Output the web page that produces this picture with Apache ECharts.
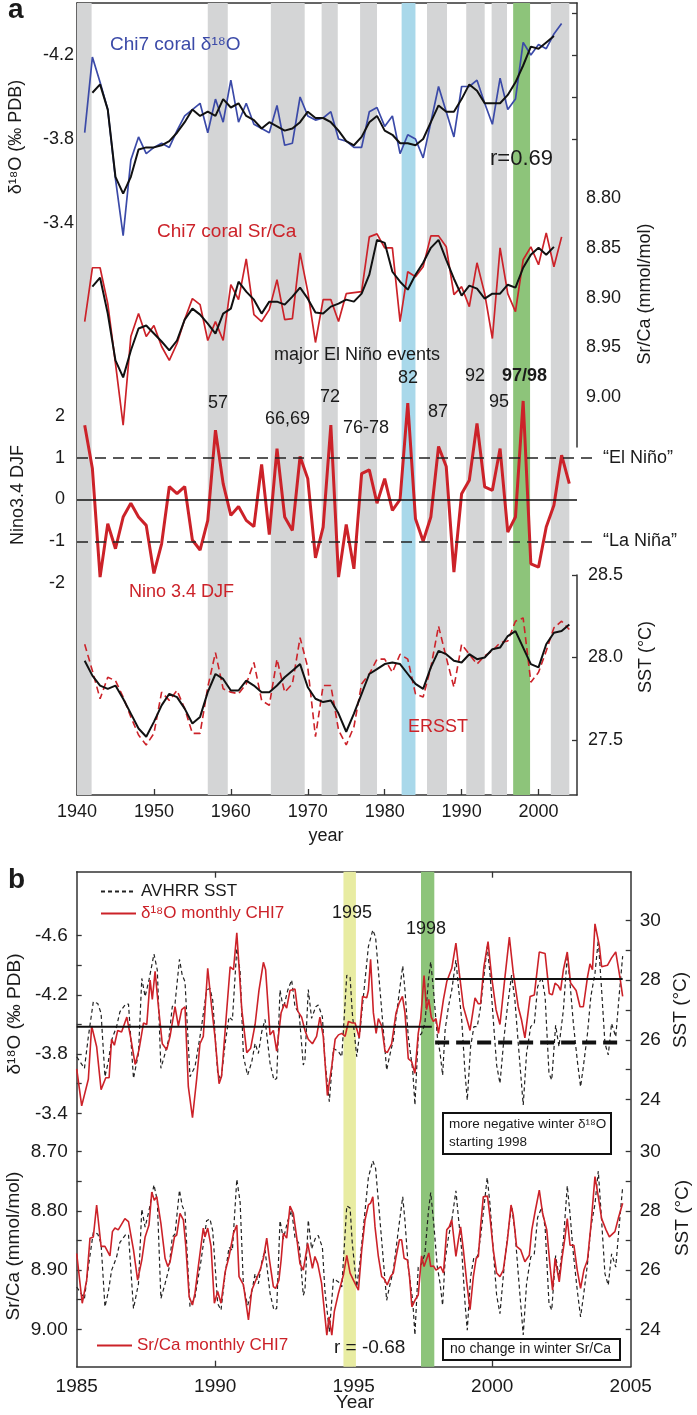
<!DOCTYPE html>
<html>
<head>
<meta charset="utf-8">
<script src="https://cdn.jsdelivr.net/npm/echarts@6.0.0/dist/echarts.min.js"></script>
<style>
  html, body { margin: 0; padding: 0; background: #fff; }
  #main { width: 697px; height: 1415px; }
</style>
</head>
<body>
<div id="main"></div>
<script>
// ---- panel a: annual series (first year given, one value per year) ----
const d18oStart = 1941
const d18oAnnual = [-3.83, -4.19, -4.07, -3.94, -3.61, -3.34, -3.70, -3.81, -3.73, -3.76, -3.78, -3.76, -3.84, -3.91, -3.94, -3.97, -3.83, -3.99, -3.88, -4.08, -3.88, -3.97, -3.87, -3.85, -3.83, -3.96, -3.77, -3.78, -4.00, -3.91, -3.89, -3.90, -3.93, -3.80, -3.79,
  -3.76, -3.76, -3.93, -3.95, -3.86, -3.91, -3.73, -3.82, -3.80, -3.71, -3.88, -4.05, -3.93, -3.81, -4.05, -4.05, -4.08, -3.97, -3.87, -4.09, -3.94, -3.99, -4.26, -4.20, -4.25, -4.23, -4.30, -4.35]
const smoothStart = 1942
const d18oSmooth = [-4.02, -4.06, -3.94, -3.62, -3.54, -3.62, -3.75, -3.76, -3.76, -3.77, -3.79, -3.83, -3.88, -3.94, -3.91, -3.93, -3.91, -3.99, -3.95, -3.97, -3.91, -3.89, -3.85, -3.88, -3.86, -3.84, -3.85, -3.88, -3.93, -3.90, -3.90, -3.88, -3.84, -3.79,
  -3.77, -3.81, -3.88, -3.91, -3.84, -3.82, -3.78, -3.78, -3.77, -3.80, -3.88, -3.96, -3.93, -3.93, -3.99, -4.06, -4.03, -3.97, -3.97, -3.97, -4.01, -4.07, -4.15, -4.24, -4.23, -4.26, -4.29]
const srcaAnnual = [8.924, 8.870, 8.870, 8.906, 8.966, 9.028, 8.939, 8.916, 8.939, 8.928, 8.949, 8.963, 8.946, 8.922, 8.901, 8.907, 8.943, 8.924, 8.943, 8.887, 8.902, 8.861, 8.917, 8.924, 8.912, 8.882, 8.922, 8.921, 8.855, 8.894, 8.945, 8.902, 8.902, 8.924, 8.896,
  8.895, 8.894, 8.839, 8.836, 8.850, 8.850, 8.924, 8.874, 8.879, 8.869, 8.838, 8.838, 8.849, 8.897, 8.889, 8.909, 8.865, 8.896, 8.941, 8.850, 8.896, 8.914, 8.862, 8.849, 8.867, 8.835, 8.869, 8.839]
const srcaSmooth = [8.889, 8.880, 8.916, 8.963, 8.980, 8.953, 8.931, 8.928, 8.936, 8.944, 8.953, 8.943, 8.922, 8.911, 8.917, 8.926, 8.936, 8.916, 8.911, 8.884, 8.894, 8.902, 8.916, 8.904, 8.904, 8.907, 8.899, 8.890, 8.901, 8.915, 8.916, 8.909, 8.906, 8.902,
  8.904, 8.896, 8.877, 8.842, 8.845, 8.874, 8.884, 8.892, 8.877, 8.865, 8.850, 8.842, 8.862, 8.881, 8.898, 8.888, 8.891, 8.901, 8.896, 8.896, 8.887, 8.890, 8.870, 8.857, 8.850, 8.857, 8.849]
const ninoStart = 1941
const nino34 = [1.78, 0.74, -1.86, -0.58, -1.18, -0.42, -0.09, -0.42, -0.62, -1.77, -1.06, 0.31, 0.14, 0.31, -0.97, -1.21, -0.50, 1.66, 0.38, -0.38, -0.17, -0.50, -0.65, 0.84, -0.84, 1.22, -0.42, -0.74, 1.03, 0.50, -1.40, -0.66, 1.78, -1.86, -0.60,
  -1.66, 0.62, 0.71, -0.09, 0.50, -0.26, 0.00, 2.31, -0.46, -1.00, -0.42, 1.27, 0.79, -1.74, 0.14, 0.46, 1.82, 0.30, 0.22, 1.22, -0.78, -0.42, 2.36, -1.54, -1.62, -0.66, -0.14, 1.06, 0.38]
const ersst = [28.08, 27.92, 27.75, 27.88, 27.86, 27.76, 27.64, 27.53, 27.47, 27.54, 27.79, 27.74, 27.80, 27.69, 27.54, 27.54, 27.82, 28.03, 27.81, 27.79, 27.78, 27.84, 27.97, 27.74, 27.71, 27.99, 27.79, 27.84, 28.12, 27.94, 27.52, 27.83, 27.83, 27.56, 27.47,
  27.58, 27.84, 27.90, 27.99, 27.99, 27.91, 28.02, 27.99, 27.78, 27.76, 27.94, 28.19, 28.00, 27.82, 28.08, 28.02, 27.96, 28.01, 28.04, 28.09, 28.10, 28.22, 28.24, 27.85, 27.91, 28.04, 28.18, 28.22, 28.17]
const ersstSmooth = [27.98, 27.89, 27.83, 27.81, 27.83, 27.75, 27.66, 27.57, 27.52, 27.61, 27.71, 27.78, 27.76, 27.69, 27.60, 27.64, 27.79, 27.90, 27.87, 27.80, 27.80, 27.86, 27.83, 27.79, 27.79, 27.83, 27.88, 27.92, 27.96, 27.82, 27.75, 27.73, 27.74, 27.66, 27.55,
  27.66, 27.78, 27.90, 27.93, 27.96, 27.97, 27.96, 27.90, 27.84, 27.81, 27.94, 28.04, 28.02, 27.98, 27.97, 28.02, 27.99, 28.00, 28.05, 28.06, 28.13, 28.16, 28.06, 27.96, 27.94, 28.08, 28.15, 28.16, 28.20]
const ninoThresholds = [1, -1]
const ninoThresholdNames = ['\u201cEl Ni\u00f1o\u201d', '\u201cLa Ni\u00f1a\u201d']

// shaded El Nino years in panel a
const grayStartA = [1940, 1957.0, 1965.2, 1971.8, 1976.8, 1985.5, 1990.6, 1993.9, 2001.6]
const grayEndA = [1941.9, 1959.6, 1969.6, 1973.9, 1979.0, 1988.1, 1993.0, 1995.9, 2004.0]
const blueBandA = [1982.2, 1984.0]
const greenBandA = [1996.7, 1998.9]

// ---- panel b: monthly series as [year, value] ----
const avhrrSst = [[1985.00,25.43],[1985.28,25.04],[1985.42,26.10],[1985.60,27.28],[1985.76,27.22],[1985.88,26.89],[1986.02,24.76],[1986.14,25.26],[1986.26,25.99],[1986.44,26.44],[1986.56,26.94],[1986.77,27.20],[1986.87,27.20],[1987.05,24.70],[1987.23,25.54],[1987.35,28.06],[1987.47,27.45],[1987.61,28.01],[1987.79,28.88],[1987.91,28.34],[1988.04,25.04],[1988.19,25.54],[1988.33,26.05],[1988.45,27.11],[1988.55,27.22],[1988.71,28.70],[1988.81,28.17],[1988.91,27.95],[1989.09,24.76],[1989.27,25.09],[1989.49,26.33],[1989.69,27.67],[1989.81,27.73],[1989.91,27.33],[1990.09,24.87],[1990.21,24.65],[1990.36,25.88],[1990.50,26.77],[1990.62,26.66],[1990.78,29.07],[1990.90,28.29],[1991.02,25.43],[1991.17,24.81],[1991.32,25.26],[1991.44,25.88],[1991.56,25.54],[1991.68,26.27],[1991.80,26.68],[1991.98,25.21],[1992.12,24.65],[1992.22,24.70],[1992.34,27.67],[1992.46,27.05],[1992.62,27.67],[1992.76,28.01],[1992.88,27.11],[1993.03,26.89],[1993.18,25.15],[1993.24,25.32],[1993.36,27.69],[1993.48,26.72],[1993.63,27.11],[1993.72,27.17],[1993.87,26.77],[1993.96,25.32],[1994.12,23.92],[1994.27,25.71],[1994.45,25.60],[1994.57,25.43],[1994.75,28.17],[1994.87,28.10],[1994.95,26.89],[1995.11,25.43],[1995.23,26.33],[1995.41,28.01],[1995.53,29.13],[1995.69,29.69],[1995.79,29.44],[1995.95,27.67],[1996.07,26.33],[1996.19,24.98],[1996.29,25.43],[1996.43,25.99],[1996.61,27.33],[1996.77,28.48],[1996.85,27.67],[1996.97,26.10],[1997.13,24.98],[1997.21,23.81],[1997.33,26.10],[1997.45,26.21],[1997.57,26.55],[1997.70,28.01],[1997.78,28.62],[1997.88,27.67],[1998.02,26.10],[1998.12,25.54],[1998.21,24.81],[1998.30,26.33],[1998.42,27.11],[1998.54,27.67],[1998.69,28.68],[1998.78,27.78],[1998.90,26.66],[1999.02,24.87],[1999.10,23.97],[1999.22,25.77],[1999.34,26.44],[1999.46,26.44],[1999.58,27.11],[1999.74,28.45],[1999.82,29.13],[1999.92,28.23],[2000.04,26.66],[2000.16,25.15],[2000.28,24.53],[2000.43,26.10],[2000.55,27.11],[2000.70,28.17],[2000.82,27.33],[2000.94,25.88],[2001.12,23.81],[2001.24,25.54],[2001.39,26.44],[2001.52,26.55],[2001.64,27.78],[2001.79,28.12],[2001.91,27.45],[2002.05,24.87],[2002.15,24.65],[2002.29,26.49],[2002.41,25.77],[2002.57,27.00],[2002.71,28.85],[2002.81,27.89],[2002.93,26.55],[2003.07,25.32],[2003.19,24.42],[2003.29,25.09],[2003.44,26.21],[2003.56,27.45],[2003.71,28.23],[2003.83,29.35],[2003.95,27.67],[2004.07,25.88],[2004.19,25.49],[2004.31,26.55],[2004.46,26.10],[2004.59,27.56],[2004.71,28.81]]
const d18oMonthly = [[1985.00,-3.70],[1985.18,-3.45],[1985.42,-3.63],[1985.54,-3.99],[1985.72,-3.85],[1985.88,-3.56],[1986.05,-3.64],[1986.17,-3.64],[1986.26,-3.90],[1986.36,-3.86],[1986.48,-3.96],[1986.62,-3.95],[1986.81,-4.05],[1986.96,-3.90],[1987.11,-3.73],[1987.25,-3.83],[1987.41,-4.01],[1987.53,-4.00],[1987.65,-4.30],[1987.73,-4.17],[1987.83,-4.36],[1987.95,-4.12],[1988.09,-3.87],[1988.25,-3.83],[1988.37,-3.92],[1988.45,-4.01],[1988.55,-4.12],[1988.67,-3.99],[1988.79,-4.10],[1988.91,-4.12],[1989.03,-3.58],[1989.18,-3.37],[1989.33,-3.63],[1989.45,-3.87],[1989.57,-3.92],[1989.73,-4.38],[1989.87,-4.12],[1989.99,-3.92],[1990.14,-3.60],[1990.23,-3.65],[1990.38,-4.01],[1990.54,-4.39],[1990.66,-4.37],[1990.78,-4.62],[1990.86,-4.39],[1990.96,-4.10],[1991.14,-3.81],[1991.28,-3.84],[1991.44,-4.00],[1991.58,-4.23],[1991.74,-4.42],[1991.82,-4.37],[1991.98,-3.93],[1992.10,-3.96],[1992.22,-3.82],[1992.38,-4.08],[1992.50,-4.14],[1992.58,-4.11],[1992.70,-4.23],[1992.88,-4.24],[1992.98,-4.09],[1993.12,-4.05],[1993.24,-3.96],[1993.36,-3.90],[1993.51,-3.87],[1993.66,-3.92],[1993.78,-4.05],[1993.90,-3.92],[1994.05,-3.52],[1994.21,-3.72],[1994.33,-3.90],[1994.45,-3.93],[1994.57,-3.94],[1994.69,-3.92],[1994.81,-4.02],[1994.95,-4.01],[1995.05,-4.01],[1995.20,-3.91],[1995.32,-4.19],[1995.47,-4.18],[1995.53,-4.23],[1995.61,-4.44],[1995.71,-4.08],[1995.81,-3.94],[1995.89,-4.04],[1996.01,-3.99],[1996.13,-3.82],[1996.21,-3.81],[1996.37,-3.87],[1996.53,-4.08],[1996.65,-4.15],[1996.76,-4.19],[1996.85,-4.08],[1996.97,-3.77],[1997.09,-3.75],[1997.21,-3.67],[1997.33,-3.94],[1997.42,-4.04],[1997.54,-4.33],[1997.63,-4.10],[1997.71,-4.17],[1997.80,-4.05],[1997.88,-4.02],[1997.97,-4.04],[1998.06,-3.94],[1998.24,-4.17],[1998.36,-4.29],[1998.54,-4.38],[1998.69,-4.55],[1998.81,-4.35],[1998.96,-4.12],[1999.20,-3.96],[1999.38,-4.18],[1999.50,-4.14],[1999.58,-4.14],[1999.70,-4.39],[1999.85,-4.56],[1999.98,-4.32],[2000.14,-4.10],[2000.28,-4.00],[2000.46,-4.32],[2000.62,-4.59],[2000.76,-4.35],[2000.94,-4.12],[2001.06,-4.03],[2001.18,-3.91],[2001.37,-4.19],[2001.52,-4.20],[2001.70,-4.49],[2001.91,-4.48],[2002.06,-4.21],[2002.17,-4.20],[2002.27,-4.28],[2002.39,-4.26],[2002.47,-4.23],[2002.57,-4.37],[2002.71,-4.49],[2002.83,-4.28],[2003.03,-4.23],[2003.17,-4.12],[2003.29,-4.12],[2003.44,-4.32],[2003.53,-4.41],[2003.62,-4.37],[2003.71,-4.68],[2003.87,-4.53],[2003.95,-4.39],[2004.16,-4.40],[2004.31,-4.45],[2004.46,-4.49],[2004.61,-4.32],[2004.71,-4.19]]
const srcaMonthly = [[1985.00,8.872],[1985.20,8.956],[1985.36,8.917],[1985.48,8.846],[1985.60,8.844],[1985.72,8.790],[1985.88,8.860],[1986.02,8.860],[1986.20,8.876],[1986.29,8.835],[1986.38,8.829],[1986.50,8.832],[1986.74,8.813],[1986.87,8.818],[1987.05,8.866],[1987.20,8.917],[1987.35,8.883],[1987.47,8.844],[1987.61,8.824],[1987.71,8.768],[1987.80,8.782],[1987.89,8.776],[1988.04,8.821],[1988.19,8.880],[1988.29,8.894],[1988.37,8.886],[1988.53,8.844],[1988.61,8.841],[1988.73,8.804],[1988.85,8.815],[1988.94,8.860],[1989.06,8.945],[1989.18,8.959],[1989.27,8.939],[1989.39,8.894],[1989.57,8.829],[1989.63,8.844],[1989.73,8.829],[1989.85,8.860],[1989.97,8.956],[1990.09,8.936],[1990.21,8.956],[1990.36,8.903],[1990.50,8.877],[1990.66,8.838],[1990.78,8.824],[1990.86,8.911],[1991.02,8.925],[1991.20,8.984],[1991.32,8.934],[1991.44,8.920],[1991.62,8.900],[1991.74,8.880],[1991.86,8.846],[1991.96,8.883],[1992.10,8.928],[1992.18,8.931],[1992.30,8.917],[1992.38,8.883],[1992.46,8.838],[1992.58,8.846],[1992.70,8.792],[1992.82,8.804],[1992.94,8.844],[1993.06,8.889],[1993.18,8.900],[1993.34,8.855],[1993.51,8.897],[1993.60,8.877],[1993.70,8.889],[1993.84,8.922],[1994.03,9.010],[1994.11,8.979],[1994.21,9.010],[1994.30,8.970],[1994.45,8.939],[1994.63,8.908],[1994.75,8.875],[1994.87,8.905],[1994.99,8.917],[1995.17,8.934],[1995.29,8.866],[1995.41,8.815],[1995.53,8.790],[1995.61,8.787],[1995.69,8.776],[1995.77,8.827],[1995.89,8.877],[1996.01,8.911],[1996.09,8.914],[1996.21,8.925],[1996.33,8.911],[1996.43,8.905],[1996.53,8.877],[1996.65,8.849],[1996.73,8.849],[1996.82,8.880],[1996.94,8.883],[1997.01,8.908],[1997.10,8.962],[1997.21,8.951],[1997.33,8.942],[1997.45,8.876],[1997.54,8.894],[1997.61,8.897],[1997.71,8.871],[1997.78,8.894],[1997.88,8.893],[1997.97,8.900],[1998.06,8.897],[1998.14,8.894],[1998.24,8.905],[1998.36,8.832],[1998.45,8.827],[1998.54,8.815],[1998.69,8.877],[1998.78,8.849],[1998.86,8.827],[1998.96,8.866],[1999.08,8.920],[1999.20,8.967],[1999.32,8.911],[1999.42,8.880],[1999.50,8.877],[1999.58,8.827],[1999.68,8.776],[1999.83,8.775],[1999.92,8.810],[2000.04,8.866],[2000.16,8.905],[2000.28,8.911],[2000.40,8.900],[2000.55,8.849],[2000.68,8.790],[2000.76,8.807],[2000.88,8.860],[2001.03,8.866],[2001.18,8.886],[2001.34,8.875],[2001.43,8.832],[2001.55,8.801],[2001.70,8.765],[2001.82,8.804],[2001.97,8.832],[2002.09,8.894],[2002.18,8.934],[2002.27,8.880],[2002.33,8.880],[2002.42,8.920],[2002.51,8.883],[2002.63,8.844],[2002.71,8.813],[2002.81,8.858],[2002.95,8.858],[2003.07,8.900],[2003.19,8.931],[2003.31,8.900],[2003.44,8.883],[2003.56,8.827],[2003.71,8.742],[2003.83,8.776],[2003.95,8.813],[2004.11,8.832],[2004.23,8.844],[2004.43,8.835],[2004.55,8.813],[2004.71,8.787]]

// winter mean lines on the d18O axis of panel b
const winterLineStart = [1985.0, 1997.94, 1997.94]
const winterLineEnd = [1997.82, 2004.71, 2004.71]
const winterLineValue = [-3.985, -4.307, -3.879]
const winterLineDashed = [false, false, true]
const yellowBandB = [1994.63, 1995.08]
const greenBandB = [1997.43, 1997.91]

const FONT = '"Liberation Sans", Arial, Helvetica, sans-serif'
const AXC = '#333'
const TXT = '#1a1a1a'
const RED = '#cc2229'
const BLUE = '#3b4aa8'
const BLACK = '#111'
const GRAY = '#d4d5d6'

const pairs = (start, vals) => vals.map((v, i) => [start + i, v])

function box(left, top, width, height) {
  return { left, top, width, height, containLabel: false, outerBoundsMode: 'none' }
}
function xHidden(gridIndex, min, max) {
  return { type: 'value', gridIndex, min, max, show: false, splitLine: { show: false } }
}
function yLine(gridIndex, position) {
  return {
    type: 'value', gridIndex, position, min: 0, max: 1,
    axisLine: { show: true, onZero: false, lineStyle: { color: AXC, width: 1.5 } },
    axisTick: { show: false }, axisLabel: { show: false }, splitLine: { show: false }
  }
}
function yScale(gridIndex, position, o) {
  return {
    type: 'value', gridIndex, position, min: o.min, max: o.max, interval: o.interval, inverse: !!o.inverse,
    axisLine: { show: false, onZero: false },
    axisTick: { show: o.ticks !== false, inside: true, length: 5, lineStyle: { color: AXC, width: 1.3 }, customValues: o.tickValues },
    axisLabel: {
      show: !!o.labels, customValues: o.labels, margin: o.margin || 8,
      formatter: v => Number(v).toFixed(o.dec), fontSize: o.fs || 18, color: TXT, fontFamily: FONT
    },
    splitLine: { show: false }
  }
}
function xFrame(gridIndex, position, o) {
  return {
    type: 'value', gridIndex, position, min: o.min, max: o.max,
    axisLine: { show: true, onZero: false, lineStyle: { color: AXC, width: 1.5 } },
    axisTick: { show: !!o.ticks, inside: true, length: 6, lineStyle: { color: AXC, width: 1.3 }, customValues: o.ticks },
    axisLabel: { show: !!o.labels, customValues: o.labels, margin: o.margin || 8, fontSize: o.fs || 18, color: TXT, fontFamily: FONT, formatter: v => String(v) },
    splitLine: { show: false }
  }
}
function band(s, e, color) {
  return [{ xAxis: s, itemStyle: { color } }, { xAxis: e }]
}
function txt(x, y, text, o = {}) {
  return {
    type: 'text', x, y, z: 100, rotation: o.rot || 0,
    style: {
      text, fill: o.color || TXT, fontSize: o.fs || 18, fontFamily: FONT, fontWeight: o.bold ? 'bold' : 'normal',
      textAlign: o.align || 'left', align: o.align || 'left', textVerticalAlign: 'middle', verticalAlign: 'middle'
    }
  }
}
function line(name, xi, yi, data, color, width, dash, z) {
  return {
    type: 'line', name, xAxisIndex: xi, yAxisIndex: yi, data, symbol: 'none', clip: false, silent: true,
    itemStyle: { color }, lineStyle: { color, width, type: dash || 'solid' }, z: z || 3
  }
}

const bandsA = grayStartA.map((s, i) => band(s, grayEndA[i], GRAY))
  .concat([band(blueBandA[0], blueBandA[1], '#a9d8ea'), band(greenBandA[0], greenBandA[1], '#8dc47a')])
const bandsB = [band(yellowBandB[0], yellowBandB[1], '#e8eca2'), band(greenBandB[0], greenBandB[1], '#8dc47a')]

const winterSeries = winterLineValue.map((v, i) => line('winter' + i, 9, 12,
  [[winterLineStart[i], v], [winterLineEnd[i], v]], BLACK, winterLineDashed[i] ? 4 : 2, winterLineDashed[i] ? [14, 7] : 'solid', 4))

const A_MIN = 1940, A_MAX = 2005
const option = {
  animation: false,
  backgroundColor: '#fff',
  textStyle: { fontFamily: FONT },
  grid: [
    box(77, 3, 500, 792),       // 0 frame a
    box(77, 13, 500, 210),      // 1 d18O
    box(77, 198, 500, 199.3),   // 2 Sr/Ca
    box(77, 416, 500, 167),     // 3 Nino
    box(77, 416, 520, 167),     // 4 Nino thresholds (run past the axis)
    box(77, 575, 500, 165),     // 5 SST
    box(77, 3, 500, 444),       // 6 right axis, upper part
    box(77, 575, 500, 220),     // 7 right axis, lower part
    box(76.7, 871.7, 554, 495), // 8 frame b
    box(76.7, 935.7, 554, 177.6), // 9 d18O monthly
    box(76.7, 920.7, 554, 178.6), // 10 SST top
    box(76.7, 1151.7, 554, 177.6),// 11 Sr/Ca monthly
    box(76.7, 1151.7, 554, 177.6) // 12 SST bottom
  ],
  xAxis: [
    xFrame(0, 'bottom', { min: A_MIN, max: A_MAX, ticks: [1950, 1960, 1970, 1980, 1990, 2000], labels: [1940, 1950, 1960, 1970, 1980, 1990, 2000], margin: 8 }),
    xHidden(1, A_MIN, A_MAX), xHidden(2, A_MIN, A_MAX), xHidden(3, A_MIN, A_MAX),
    xHidden(4, A_MIN, A_MIN + 65 * 520 / 500), xHidden(5, A_MIN, A_MAX), xHidden(6, A_MIN, A_MAX), xHidden(7, A_MIN, A_MAX),
    xFrame(8, 'bottom', { min: 1985, max: 2005, ticks: [1990, 1995, 2000], labels: [1985, 1990, 1995, 2000, 2005], margin: 11, fs: 19 }),
    xHidden(9, 1985, 2005), xHidden(10, 1985, 2005), xHidden(11, 1985, 2005), xHidden(12, 1985, 2005),
    xFrame(0, 'top', { min: A_MIN, max: A_MAX }),
    xFrame(8, 'top', { min: 1985, max: 2005, ticks: [1990, 1995, 2000] })
  ],
  yAxis: [
    yLine(0, 'left'),
    yScale(1, 'left', { min: -4.4, max: -3.4, interval: 0.2, inverse: true, labels: [-4.2, -3.8, -3.4], dec: 1, margin: 3 }),
    yScale(1, 'right', { min: -4.4, max: -3.4, interval: 0.2, inverse: true, tickValues: [-4.4, -4.2, -4.0, -3.8] }),
    yScale(2, 'right', { min: 8.8, max: 9.0, interval: 0.05, inverse: true, labels: [8.8, 8.85, 8.9, 8.95, 9.0], dec: 2, margin: 9, ticks: false }),
    yScale(3, 'left', { min: -2, max: 2, interval: 1, labels: [-2, -1, 0, 1, 2], dec: 0, margin: 12 }),
    { type: 'value', gridIndex: 4, min: -2, max: 2, show: false, splitLine: { show: false } },
    yScale(5, 'right', { min: 27.5, max: 28.5, interval: 0.5, labels: [27.5, 28.0, 28.5], dec: 1, margin: 11 }),
    yScale(5, 'left', { min: 27.5, max: 28.5, interval: 0.5, tickValues: [27.5, 28.0] }),
    yLine(6, 'right'),
    yLine(7, 'right'),
    yLine(8, 'left'),
    yLine(8, 'right'),
    yScale(9, 'left', { min: -4.6, max: -3.4, interval: 0.2, inverse: true, labels: [-4.6, -4.2, -3.8, -3.4], dec: 1, margin: 9, fs: 19 }),
    yScale(10, 'right', { min: 24, max: 30, interval: 1, labels: [24, 26, 28, 30], dec: 0, margin: 9, fs: 19 }),
    yScale(11, 'left', { min: 8.7, max: 9.0, interval: 0.05, inverse: true, labels: [8.7, 8.8, 8.9, 9.0], dec: 2, margin: 9, fs: 19 }),
    yScale(12, 'right', { min: 24, max: 30, interval: 1, labels: [24, 26, 28, 30], dec: 0, margin: 9, fs: 19 })
  ],
  legend: [
    {
      orient: 'vertical', left: 100, top: 883, itemWidth: 35, itemHeight: 12, itemGap: 5, padding: 0,
      itemStyle: { opacity: 0 },
      textStyle: { fontSize: 17, fontFamily: FONT, color: TXT },
      data: [{ name: 'AVHRR SST', textStyle: { color: TXT } }, { name: 'δ¹⁸O monthly CHI7', textStyle: { color: RED } }],
      selectedMode: false
    },
    {
      orient: 'vertical', left: 96, top: 1337, itemWidth: 35, itemHeight: 12, padding: 0,
      itemStyle: { opacity: 0 },
      textStyle: { fontSize: 17, fontFamily: FONT, color: RED },
      data: [{ name: 'Sr/Ca monthly CHI7', textStyle: { color: RED } }],
      selectedMode: false
    }
  ],
  series: [
    { type: 'line', name: 'bandsA', xAxisIndex: 0, yAxisIndex: 0, data: [], silent: true, z: 1, markArea: { silent: true, data: bandsA } },
    line('Chi7 coral δ18O', 1, 1, pairs(d18oStart, d18oAnnual), BLUE, 1.7),
    line('δ18O smooth', 1, 1, pairs(smoothStart, d18oSmooth), BLACK, 2),
    line('Chi7 coral Sr/Ca', 2, 3, pairs(d18oStart, srcaAnnual), RED, 1.7),
    line('Sr/Ca smooth', 2, 3, pairs(smoothStart, srcaSmooth), BLACK, 2),
    Object.assign(line('Nino 3.4 DJF', 3, 4, pairs(ninoStart, nino34), RED, 3), {
      markLine: { silent: true, symbol: 'none', label: { show: false }, lineStyle: { color: BLACK, width: 1.5, type: 'solid' }, data: [{ yAxis: 0 }] }
    }),
    {
      type: 'line', name: 'thresholds', xAxisIndex: 4, yAxisIndex: 5, data: [], silent: true, z: 2,
      markLine: {
        silent: true, symbol: 'none',
        lineStyle: { color: '#222', width: 1.5, type: [11, 7] },
        label: { show: true, position: 'end', distance: 6, fontSize: 18, color: TXT, fontFamily: FONT },
        data: ninoThresholds.map((v, i) => ({ yAxis: v, label: { formatter: ninoThresholdNames[i] } }))
      }
    },
    line('ERSST', 5, 6, pairs(ninoStart, ersst), RED, 1.6, [7, 4]),
    line('ERSST smooth', 5, 6, pairs(ninoStart, ersstSmooth), BLACK, 2),

    { type: 'line', name: 'bandsB', xAxisIndex: 8, yAxisIndex: 10, data: [], silent: true, z: 1, markArea: { silent: true, data: bandsB } },
    line('AVHRR SST', 10, 13, avhrrSst, '#222', 1.2, [4, 3]),
    line('δ¹⁸O monthly CHI7', 9, 12, d18oMonthly, RED, 1.6),
    ...winterSeries,
    line('AVHRR SST lower', 12, 15, avhrrSst, '#222', 1.2, [4, 3]),
    line('Sr/Ca monthly CHI7', 11, 14, srcaMonthly, RED, 1.6)
  ],
  graphic: [
    txt(8, 10, 'a', { fs: 28, bold: true }),
    txt(110, 45, 'Chi7 coral δ¹⁸O', { color: BLUE, fs: 19 }),
    txt(157, 232, 'Chi7 coral Sr/Ca', { color: RED, fs: 19 }),
    txt(490, 159, 'r=0.69', { fs: 22 }),
    txt(274, 355, 'major El Niño events'),
    txt(208, 403, '57'), txt(265, 419, '66,69'), txt(320, 397, '72'), txt(343, 428, '76-78'),
    txt(398, 378, '82'), txt(428, 412, '87'), txt(465, 376, '92'), txt(489, 402, '95'),
    txt(502, 376, '97/98', { bold: true }),
    txt(129, 592, 'Nino 3.4 DJF', { color: RED }),
    txt(408, 727, 'ERSST', { color: RED }),
    txt(16, 137, 'δ¹⁸O (‰ PDB)', { rot: Math.PI / 2, align: 'center' }),
    txt(645, 294, 'Sr/Ca (mmol/mol)', { rot: Math.PI / 2, align: 'center' }),
    txt(18, 495, 'Nino3.4 DJF', { rot: Math.PI / 2, align: 'center' }),
    txt(646, 657, 'SST (°C)', { rot: Math.PI / 2, align: 'center' }),
    txt(326, 836, 'year', { align: 'center' }),

    txt(8, 880, 'b', { fs: 28, bold: true }),
    txt(332, 913, '1995'),
    txt(406, 929, '1998'),
    txt(14.5, 1014, 'δ¹⁸O (‰ PDB)', { rot: Math.PI / 2, align: 'center', fs: 19 }),
    txt(14, 1246, 'Sr/Ca (mmol/mol)', { rot: Math.PI / 2, align: 'center', fs: 19 }),
    txt(681, 1010, 'SST (°C)', { rot: Math.PI / 2, align: 'center', fs: 19 }),
    txt(683, 1218, 'SST (°C)', { rot: Math.PI / 2, align: 'center', fs: 19 }),
    txt(355, 1403, 'Year', { align: 'center', fs: 19 }),
    txt(334, 1348, 'r = -0.68', { fs: 19 }),
    { type: 'rect', z: 90, shape: { x: 443, y: 1113, width: 168, height: 41 }, style: { fill: '#fff', stroke: '#111', lineWidth: 2 } },
    txt(449, 1124, 'more negative winter δ¹⁸O', { fs: 13.5 }),
    txt(449, 1142, 'starting 1998', { fs: 13.5 }),
    { type: 'rect', z: 90, shape: { x: 443, y: 1339, width: 177, height: 21 }, style: { fill: '#fff', stroke: '#111', lineWidth: 2 } },
    txt(450, 1349.5, 'no change in winter Sr/Ca', { fs: 14 })
  ]
}

const chart = echarts.init(document.getElementById('main'))
chart.setOption(option)
</script>
</body>
</html>
